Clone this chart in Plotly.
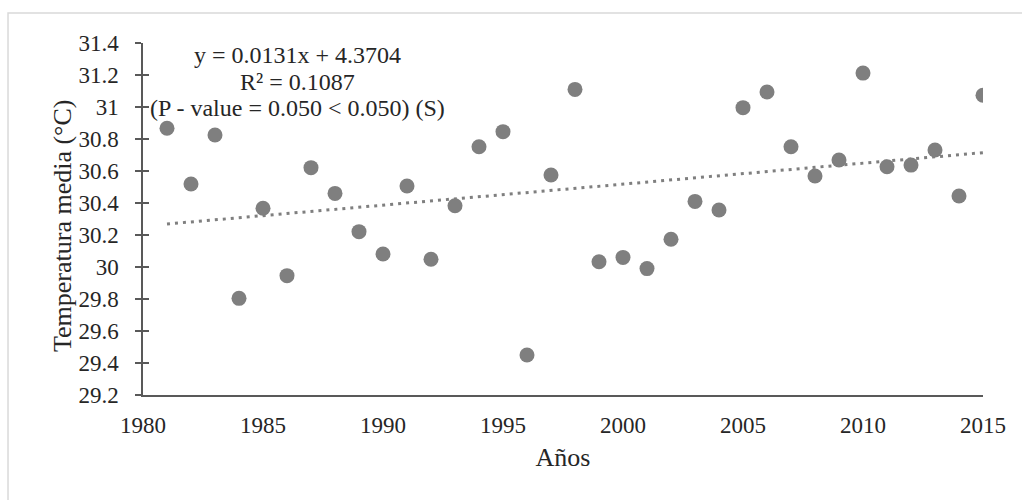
import numpy as np
import plotly.graph_objects as go

years = list(range(1981, 2016))
temps = [30.867, 30.519, 30.825, 29.804, 30.367, 29.946, 30.621, 30.460, 30.221, 30.081,
         30.506, 30.048, 30.383, 30.752, 30.846, 29.450, 30.575, 31.110, 30.033, 30.060,
         29.990, 30.173, 30.410, 30.356, 30.996, 31.094, 30.752, 30.569, 30.669, 31.212,
         30.627, 30.637, 30.731, 30.444, 31.073]

x_ticks = [1980, 1985, 1990, 1995, 2000, 2005, 2010, 2015]
annotation_lines = ["y = 0.0131x + 4.3704", "R² = 0.1087", "(P - value = 0.050 < 0.050) (S)"]
annotation_y = [31.325, 31.158, 30.994]
y_title = "Temperatura media (°C)"
x_title = "Años"

slope, intercept = np.polyfit(years, temps, 1)
trend_x = [years[0], years[-1]]
trend_y = [slope * v + intercept for v in trend_x]

ff = "Liberation Serif"
txt = "#262626"
grey = "#7f7f7f"
axis_col = "#595959"
tickfont = dict(family=ff, size=23, color=txt)

fig = go.Figure()
fig.add_trace(go.Scatter(x=trend_x, y=trend_y, mode="lines",
                         line=dict(color=grey, width=3, dash="3px,5px"),
                         showlegend=False, hoverinfo="skip"))
fig.add_trace(go.Scatter(x=years, y=temps, mode="markers",
                         marker=dict(color=grey, size=15),
                         showlegend=False))

annotations = [dict(x=1986.45, y=yv, xref="x", yref="y", text=t, showarrow=False,
                    align="center", font=dict(size=24, family=ff, color=txt))
               for t, yv in zip(annotation_lines, annotation_y)]
annotations.append(dict(x=-0.0964, y=0.48, xref="paper", yref="paper", text=y_title,
                        textangle=-90, showarrow=False, xanchor="center", yanchor="middle",
                        font=dict(size=26, family=ff, color=txt)))

fig.update_layout(
    width=1022, height=500,
    margin=dict(l=143, r=39, t=43, b=105),
    paper_bgcolor="white", plot_bgcolor="white",
    font=dict(family=ff, color=txt, size=22),
    xaxis=dict(range=[1980, 2015], tickvals=x_ticks, ticks="", showgrid=False,
               zeroline=False, showline=True, linecolor=axis_col, linewidth=1.5,
               ticklabelstandoff=9, tickfont=tickfont,
               title=dict(text=x_title, font=dict(family=ff, size=26, color=txt), standoff=10)),
    yaxis=dict(range=[29.2, 31.4], dtick=0.2, tick0=29.2, ticks="outside", ticklen=6,
               tickcolor=axis_col, tickwidth=1.5, showgrid=False, zeroline=False,
               showline=True, linecolor=axis_col, linewidth=1.5,
               ticklabelstandoff=12, tickfont=tickfont),
    yaxis2=dict(range=[29.2, 31.4], dtick=0.2, tick0=29.2, overlaying="y", side="left",
                anchor="x", ticks="inside", ticklen=6, tickcolor=axis_col, tickwidth=1.5,
                showticklabels=False, showgrid=False, zeroline=False, showline=False),
    annotations=annotations,
    shapes=[dict(type="rect", xref="paper", yref="paper",
                 x0=-0.1607, x1=1.1, y0=-0.5, y1=1.0852,
                 line=dict(color="#d9d9d9", width=1.5), fillcolor="rgba(0,0,0,0)", layer="below")],
)
fig.add_trace(go.Scatter(x=[None], y=[None], yaxis="y2", showlegend=False, hoverinfo="skip"))

fig.write_html("out.html")
